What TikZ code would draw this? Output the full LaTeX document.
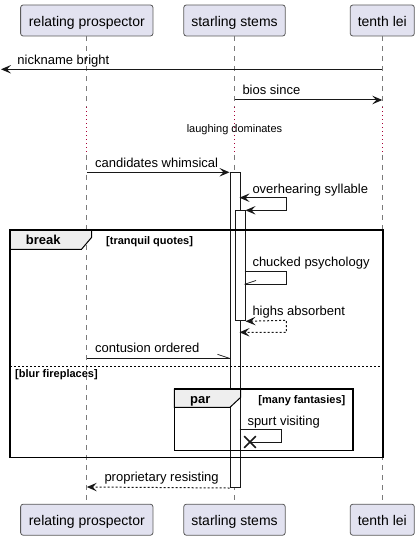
\documentclass[tikz,border=0pt]{standalone}
\usepackage{fontspec}
\setmainfont{Liberation Sans}
\usetikzlibrary{arrows.meta,calc}
\definecolor{partfill}{HTML}{E2E2F0}
\definecolor{partdraw}{HTML}{5A5A5A}
\definecolor{lineclr}{HTML}{181818}
\definecolor{delayclr}{HTML}{A80036}
\definecolor{tabfill}{HTML}{EEEEEE}
\definecolor{lifeclr}{HTML}{7A7A7A}
\tikzset{
  partbox/.style={draw=partdraw, fill=partfill, line width=0.8bp, rounded corners=2.5bp,
    minimum height=31bp, inner sep=0pt, text height=15bp, text depth=3bp,
    font=\fontsize{14bp}{16bp}\selectfont},
  lifeline/.style={draw=lifeclr, line width=0.8bp, dash pattern=on 5bp off 5bp},
  delayline/.style={draw=delayclr, line width=0.9bp, dash pattern=on 1bp off 3bp},
  msg/.style={draw=lineclr, line width=1bp},
  retmsg/.style={draw=lineclr, line width=1bp, dash pattern=on 2bp off 2bp},
  arrowEnd/.style={-{Stealth[length=10bp,width=8.5bp,inset=4bp]}},
  arrowBoth/.style={{Stealth[length=10bp,width=8.5bp,inset=4bp]}-{Stealth[length=10bp,width=8.5bp,inset=4bp]}},
  halfstroke/.style={draw=lineclr, line width=0.7bp},
  xmark/.style={draw=lineclr, line width=1.6bp},
  lbl/.style={font=\fontsize{13bp}{15bp}\selectfont, anchor=base west, inner sep=0pt, text=black},
  actbox/.style={draw=lineclr, fill=white, line width=1bp, minimum width=10bp, inner sep=0pt, anchor=north west},
  frameline/.style={draw=black, line width=1.6bp},
  tabline/.style={draw=black, line width=1bp, fill=tabfill},
  sepline/.style={draw=black, line width=0.8bp, dash pattern=on 2bp off 2bp},
  grouptitle/.style={font=\bfseries\fontsize{13bp}{15bp}\selectfont, anchor=base west, inner sep=0pt},
  condtext/.style={font=\bfseries\fontsize{11bp}{13bp}\selectfont, inner sep=0pt},
  delaytext/.style={font=\fontsize{11bp}{13bp}\selectfont, anchor=base, inner sep=0pt}
}
\begin{document}
\begin{tikzpicture}[x=1bp,y=-1bp]
\useasboundingbox[fill=white] (0,0) rectangle (419,540);

% participants
\node[partbox, minimum width=132.3bp] (rpT) at (86.8,20.5) {relating prospector};
\node[partbox, minimum width=101.4bp] (ssT) at (234.5,20.5) {starling stems};
\node[partbox, minimum width=64bp] (tlT) at (382.3,20.5) {tenth lei};
\node[partbox, minimum width=132.3bp] (rpB) at (86.8,519.7) {relating prospector};
\node[partbox, minimum width=101.4bp] (ssB) at (234.5,519.7) {starling stems};
\node[partbox, minimum width=64bp] (tlB) at (382.3,519.7) {tenth lei};

% lifelines with delay section
\coordinate (rpD1) at (86.8,107.3);  \coordinate (rpD2) at (86.8,155);
\coordinate (ssD1) at (234.5,107.3); \coordinate (ssD2) at (234.5,155);
\coordinate (tlD1) at (382.3,107.3); \coordinate (tlD2) at (382.3,155);
\draw[lifeline] (rpT.south) -- (rpD1);
\draw[delayline] (rpD1) -- (rpD2);
\draw[lifeline] (rpD2) -- (rpB.north);
\draw[lifeline] (ssT.south) -- (ssD1);
\draw[delayline] (ssD1) -- (ssD2);
\draw[lifeline] (ssD2) -- (ssB.north);
\draw[lifeline] (tlT.south) -- (tlD1);
\draw[delayline] (tlD1) -- (tlD2);
\draw[lifeline] (tlD2) -- (tlB.north);
\node[delaytext] (delay) at (234.5,133) {laughing dominates};

% activations
\node[actbox, minimum height=314.7bp] (act1) at (229.5,172.3) {};
\node[actbox, minimum height=110bp] (act2) at (234.5,210.3) {};

% break frame
\draw[tabline] (10,230) -- (91.5,230) -- (91.5,237.5) -- (81.5,249.3) -- (10,249.3) -- cycle;
\draw[frameline] (10,230) rectangle (382.7,457.3);
\node[grouptitle] (brk) at (25.7,244.3) {break};
\node[condtext, anchor=base west] (brkc) at (106,244.3) {[tranquil quotes]};
\draw[sepline] (10,366.7) -- (382.7,366.7);
\node[condtext, anchor=base west] (elsec) at (15,377.7) {[blur fireplaces]};

% par frame
\draw[tabline] (174.3,389) -- (240.5,389) -- (240.5,397.5) -- (230,407.3) -- (174.3,407.3) -- cycle;
\draw[frameline] (174.3,389) rectangle (352.7,450.3);
\node[grouptitle] (par) at (190,403.3) {par};
\node[condtext, anchor=base east] (parc) at (345.5,403.3) {[many fantasies]};

% messages
\coordinate (tl1) at (382.3,69.3);
\coordinate (lost) at (1,69.3);
\draw[msg, arrowEnd] (tl1) -- (lost);
\node[lbl] (m1) at (17.3,64.3) {nickname bright};

\coordinate (ss1) at (234.5,100);
\coordinate (tl2) at (382.3,100);
\draw[msg, arrowEnd] (ss1) -- (tl2);
\node[lbl] (m2) at (242.3,94.8) {bios since};

\coordinate (rp1) at (86.8,172.3);
\draw[msg, arrowEnd] (rp1) -- (act1.north west);
\node[lbl] (m3) at (95,167.3) {candidates whimsical};

\coordinate (o1) at (239.5,197.7);
\coordinate (o2) at (286.3,197.7);
\coordinate (o3) at (286.3,210.3);
\draw[msg, arrowBoth] (o1) -- (o2) -- (o3) -- (act2.north east);
\node[lbl] (m4) at (252.3,193.3) {overhearing syllable};

\coordinate (c1) at (244.5,271.7);
\coordinate (c2) at (286.3,271.7);
\coordinate (c3) at (286.3,284.3);
\coordinate (c4) at (244.5,284.3);
\draw[msg] (c1) -- (c2) -- (c3) -- (c4);
\draw[halfstroke] (c4) -- ++(11.5,-3.8);
\node[lbl] (m5) at (252.3,266.7) {chucked psychology};

\coordinate (h2) at (286.3,320.3);
\coordinate (h3) at (286.3,332.3);
\coordinate (h4) at (239.5,332.3);
\draw[retmsg, arrowBoth] (act2.south east) -- (h2) -- (h3) -- (h4);
\node[lbl] (m6) at (252.3,315.3) {highs absorbent};

\coordinate (rp2) at (86.8,358.3);
\coordinate (a1w) at (229.5,358.3);
\draw[msg] (rp2) -- (a1w);
\draw[halfstroke] (a1w) -- ++(-12,-4);
\node[lbl] (m7) at (95,352.7) {contusion ordered};

\coordinate (s1) at (239.5,429.7);
\coordinate (s2) at (281.7,429.7);
\coordinate (s3) at (281.7,442);
\coordinate (sx) at (250,442);
\draw[msg] (s1) -- (s2) -- (s3) -- (sx);
\draw[xmark] ($(sx)+(-5.8,-5.8)$) -- ($(sx)+(5.8,5.8)$);
\draw[xmark] ($(sx)+(-5.8,5.8)$) -- ($(sx)+(5.8,-5.8)$);
\node[lbl] (m8) at (247.3,425) {spurt visiting};

\coordinate (rp3) at (86.8,487);
\draw[retmsg, arrowEnd] (act1.south west) -- (rp3);
\node[lbl] (m9) at (104.3,481.7) {proprietary resisting};
\end{tikzpicture}
\end{document}
